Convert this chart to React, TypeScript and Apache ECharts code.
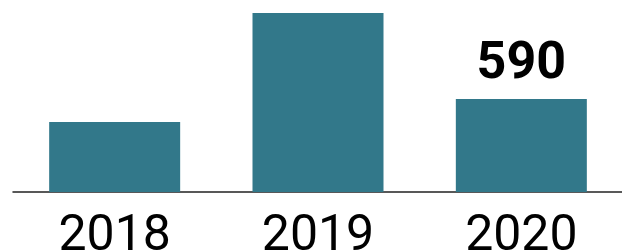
import React, { useEffect, useRef } from "react";
import * as echarts from "echarts";

const categories = ["2018", "2019", "2020"];
const values = [444, 1135, 590];
const labelled = [false, false, true];

export default function App() {
  const ref = useRef<HTMLDivElement>(null);
  useEffect(() => {
    if (!ref.current) return;
    const chart = echarts.init(ref.current, null, { renderer: "svg" });
    chart.setOption({
      animation: false,
      grid: { left: 13, right: -1, top: 13, bottom: 58, outerBoundsMode: "none", containLabel: false },
      xAxis: {
        type: "category",
        data: categories,
        axisLine: { show: true, lineStyle: { color: "#222", width: 1.5 } },
        axisTick: { show: false },
        axisLabel: {
          fontFamily: "Roboto, sans-serif",
          fontSize: 50,
          color: "#000",
          margin: 16,
        },
      },
      yAxis: { type: "value", min: 0, max: 1135, show: false, splitLine: { show: false } },
      series: [
        {
          type: "bar",
          barWidth: 131,
          itemStyle: { color: "#32788a" },
          data: values.map((v, i) => ({
            value: v,
            label: {
              show: labelled[i],
              position: "top",
              distance: 12,
              fontFamily: "Roboto, sans-serif",
              fontWeight: "bold",
              fontSize: 52,
              color: "#000",
            },
          })),
        },
      ],
    });
    return () => chart.dispose();
  }, []);
  return (
    <div
      ref={ref}
      style={{ position: "absolute", left: 0, top: 0, width: 622, height: 250, background: "#fff" }}
    />
  );
}
